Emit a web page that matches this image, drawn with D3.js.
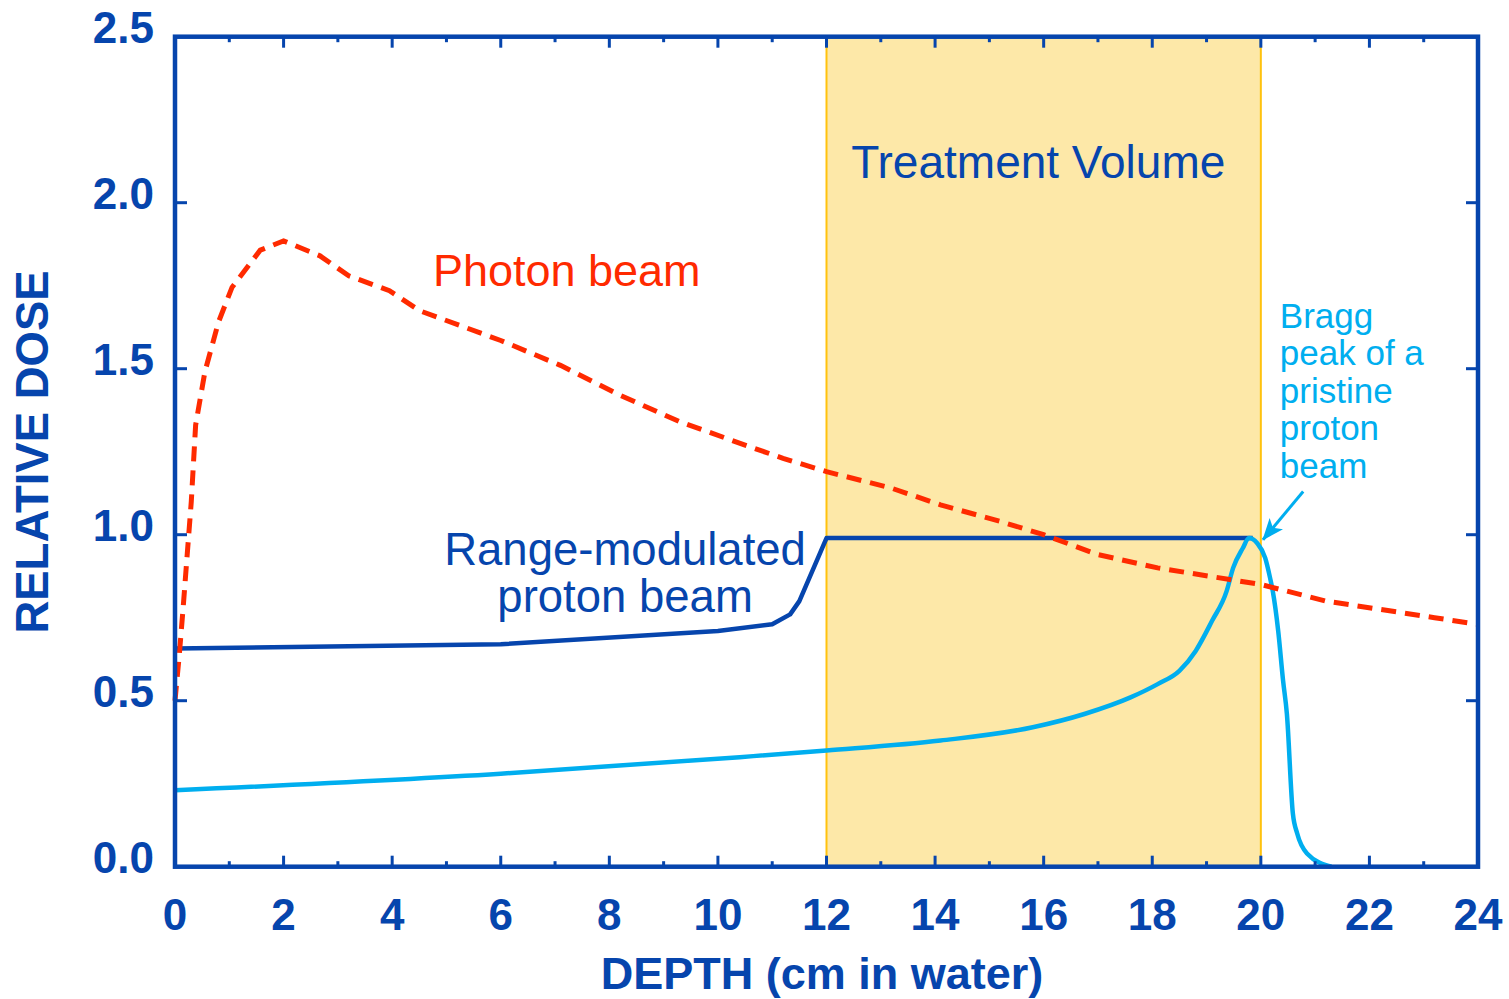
<!DOCTYPE html>
<html>
<head>
<meta charset="utf-8">
<script src="https://cdn.jsdelivr.net/npm/d3@7"></script>
<style>
	html, body { margin: 0; padding: 0; background: #fff; }
	#canvas { width: 1509px; height: 999px; }
	text { font-family: 'Liberation Sans', Arial, Helvetica, sans-serif; }
</style>
</head>
<body>
<div id="canvas"></div>
<script>
// depth in cm, dose relative
const photonDepth = [0, 0.08, 0.15, 0.22, 0.3, 0.38, 0.55, 0.8, 1.05, 1.57, 2.0, 2.67, 3.2, 3.95, 4.5, 6, 7.1, 8.2, 9.3, 10.5, 11.2, 12, 13.2, 14.1, 15.2, 16, 17, 18.1, 20, 21.2, 22.4, 23.2, 24];
const photonDose = [0.5, 0.64, 0.78, 0.93, 1.1, 1.33, 1.49, 1.64, 1.745, 1.857, 1.885, 1.84, 1.78, 1.735, 1.675, 1.585, 1.51, 1.42, 1.34, 1.27, 1.23, 1.19, 1.14, 1.09, 1.04, 1.0, 0.94, 0.9, 0.85, 0.8, 0.77, 0.75, 0.73];

const sobpDepth = [0, 6, 10, 11, 11.33, 11.5, 12, 19.85];
const sobpDose = [0.657, 0.67, 0.71, 0.73, 0.76, 0.8, 0.99, 0.99];

const braggDepth = [0, 6, 10.4, 12, 14.1, 15.8, 16.75, 17.6, 18.1, 18.5, 18.8, 19.1, 19.37, 19.49, 19.67, 19.78, 19.93, 20.08, 20.17, 20.22, 20.32, 20.41, 20.48, 20.59, 20.67, 20.85, 21.3];
const braggDose = [0.23, 0.28, 0.33, 0.35, 0.38, 0.42, 0.46, 0.51, 0.55, 0.59, 0.65, 0.74, 0.83, 0.9, 0.96, 0.99, 0.975, 0.93, 0.87, 0.83, 0.71, 0.56, 0.46, 0.16, 0.1, 0.04, 0.0];

const treatmentRange = [12, 20];
const xTicks = [0, 2, 4, 6, 8, 10, 12, 14, 16, 18, 20, 22, 24];
const xMinorTicks = [1, 3, 5, 7, 9, 11, 13, 15, 17, 19, 21, 23];
const yTicks = [0, 0.5, 1.0, 1.5, 2.0, 2.5];

const colors = {
	axis: '#0645ad',
	photon: '#ff2a00',
	sobp: '#0645ad',
	bragg: '#00aeef',
	band: '#fde8a8',
	bandEdge: '#ffc20e',
};

const width = 1509;
const height = 999;
const margins = { top: 36.7, right: 31, bottom: 132.3, left: 175 };

const svg = d3.select('#canvas').append('svg').attr('width', width).attr('height', height);

const xScale = d3.scaleLinear().domain([0, 24]).range([margins.left, width - margins.right]);
const yScale = d3.scaleLinear().domain([0, 2.5]).range([height - margins.bottom, margins.top]);

const [x0, x1] = xScale.range();
const [y0, y1] = yScale.range();

// treatment volume band
svg.append('rect')
	.attr('x', xScale(treatmentRange[0]))
	.attr('y', y1)
	.attr('width', xScale(treatmentRange[1]) - xScale(treatmentRange[0]))
	.attr('height', y0 - y1)
	.attr('fill', colors.band);

svg.selectAll('.band-edge')
	.data(treatmentRange)
	.join('line')
	.attr('class', 'band-edge')
	.attr('x1', d => xScale(d))
	.attr('x2', d => xScale(d))
	.attr('y1', y1)
	.attr('y2', y0)
	.attr('stroke', colors.bandEdge)
	.attr('stroke-width', 2);

const zip = (xs, ys) => xs.map((d, i) => [d, ys[i]]);

const line = curve => d3.line()
	.x(d => xScale(d[0]))
	.y(d => yScale(d[1]))
	.curve(curve);

svg.append('path')
	.datum(zip(sobpDepth, sobpDose))
	.attr('d', line(d3.curveLinear))
	.attr('fill', 'none')
	.attr('stroke', colors.sobp)
	.attr('stroke-width', 4.5)
	.attr('stroke-linejoin', 'round');

svg.append('path')
	.datum(zip(braggDepth, braggDose))
	.attr('d', line(d3.curveMonotoneX))
	.attr('fill', 'none')
	.attr('stroke', colors.bragg)
	.attr('stroke-width', 4.5)
	.attr('stroke-linejoin', 'round');

svg.append('path')
	.datum(zip(photonDepth, photonDose))
	.attr('d', line(d3.curveLinear))
	.attr('fill', 'none')
	.attr('stroke', colors.photon)
	.attr('stroke-width', 5)
	.attr('stroke-dasharray', '15 9');

// frame + ticks
svg.append('rect')
	.attr('x', x0)
	.attr('y', y1)
	.attr('width', x1 - x0)
	.attr('height', y0 - y1)
	.attr('fill', 'none')
	.attr('stroke', colors.axis)
	.attr('stroke-width', 4.5);

const ticksG = svg.append('g').attr('stroke', colors.axis).attr('stroke-width', 3);

const xTickData = [
	...xTicks.filter(d => d > 0 && d < 24).map(d => ({ v: d, len: 11 })),
	...xMinorTicks.map(d => ({ v: d, len: 5.5 })),
];
ticksG.selectAll('.xt-bottom')
	.data(xTickData)
	.join('line')
	.attr('x1', d => xScale(d.v))
	.attr('x2', d => xScale(d.v))
	.attr('y1', y0)
	.attr('y2', d => y0 - d.len);
ticksG.selectAll('.xt-top')
	.data(xTickData)
	.join('line')
	.attr('class', 'xt-top')
	.attr('x1', d => xScale(d.v))
	.attr('x2', d => xScale(d.v))
	.attr('y1', y1)
	.attr('y2', d => y1 + d.len);

const yInner = yTicks.filter(d => d > 0 && d < 2.5);
ticksG.selectAll('.yt-left')
	.data(yInner)
	.join('line')
	.attr('class', 'yt-left')
	.attr('x1', x0)
	.attr('x2', x0 + 12)
	.attr('y1', d => yScale(d))
	.attr('y2', d => yScale(d));
ticksG.selectAll('.yt-right')
	.data(yInner)
	.join('line')
	.attr('class', 'yt-right')
	.attr('x1', x1)
	.attr('x2', x1 - 12)
	.attr('y1', d => yScale(d))
	.attr('y2', d => yScale(d));

// tick labels
svg.append('g')
	.selectAll('text')
	.data(xTicks)
	.join('text')
	.attr('x', d => xScale(d))
	.attr('y', y0 + 63)
	.attr('text-anchor', 'middle')
	.attr('font-size', 44)
	.attr('font-weight', 'bold')
	.attr('fill', colors.axis)
	.text(d => d);

svg.append('g')
	.selectAll('text')
	.data(yTicks)
	.join('text')
	.attr('x', x0 - 21)
	.attr('y', d => yScale(d) + 6)
	.attr('text-anchor', 'end')
	.attr('font-size', 44)
	.attr('font-weight', 'bold')
	.attr('fill', colors.axis)
	.text(d => d3.format('.1f')(d));

// axis titles
svg.append('text')
	.attr('x', 822)
	.attr('y', 989)
	.attr('text-anchor', 'middle')
	.attr('font-size', 45)
	.attr('font-weight', 'bold')
	.attr('fill', colors.axis)
	.text('DEPTH (cm in water)');

svg.append('text')
	.attr('transform', 'translate(48,452) rotate(-90)')
	.attr('text-anchor', 'middle')
	.attr('font-size', 45.5)
	.attr('font-weight', 'bold')
	.attr('fill', colors.axis)
	.text('RELATIVE DOSE');

// annotations
svg.append('text')
	.attr('x', xScale(15.9))
	.attr('y', yScale(2.075))
	.attr('text-anchor', 'middle')
	.attr('font-size', 46)
	.attr('fill', colors.axis)
	.text('Treatment Volume');

svg.append('text')
	.attr('x', xScale(4.75))
	.attr('y', yScale(1.749))
	.attr('font-size', 45)
	.attr('fill', colors.photon)
	.text('Photon beam');

svg.append('text')
	.attr('text-anchor', 'middle')
	.attr('font-size', 45.5)
	.attr('fill', colors.sobp)
	.selectAll('tspan')
	.data(['Range-modulated', 'proton beam'])
	.join('tspan')
	.attr('x', xScale(8.29))
	.attr('y', (d, i) => yScale(0.909) + i * 47)
	.text(d => d);

svg.append('text')
	.attr('font-size', 35)
	.attr('fill', colors.bragg)
	.selectAll('tspan')
	.data(['Bragg', 'peak of a', 'pristine', 'proton', 'beam'])
	.join('tspan')
	.attr('x', xScale(20.35))
	.attr('y', (d, i) => yScale(1.623) + i * 37.5)
	.text(d => d);

// arrow to the bragg peak
const arrowFrom = [20.78, 1.13];
const arrowTo = [20.04, 0.985];
svg.append('defs')
	.append('marker')
	.attr('id', 'arrowhead')
	.attr('viewBox', '0 0 20 16')
	.attr('refX', 19)
	.attr('refY', 8)
	.attr('markerUnits', 'userSpaceOnUse')
	.attr('markerWidth', 22)
	.attr('markerHeight', 17.6)
	.attr('orient', 'auto')
	.append('path')
	.attr('d', 'M0,0 L20,8 L0,16 L5,8 Z')
	.attr('fill', colors.bragg);

svg.append('line')
	.attr('x1', xScale(arrowFrom[0]))
	.attr('y1', yScale(arrowFrom[1]))
	.attr('x2', xScale(arrowTo[0]))
	.attr('y2', yScale(arrowTo[1]))
	.attr('stroke', colors.bragg)
	.attr('stroke-width', 3)
	.attr('marker-end', 'url(#arrowhead)');
</script>
</body>
</html>
